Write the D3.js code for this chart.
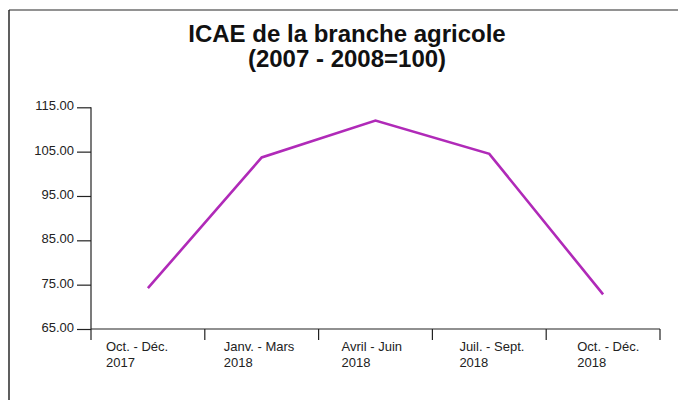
<!DOCTYPE html>
<html>
<head>
<meta charset="utf-8">
<script src="https://cdn.jsdelivr.net/npm/d3@7/dist/d3.min.js"></script>
<style>
  html, body { margin: 0; padding: 0; background: #fff; }
  svg { display: block; font-family: "Liberation Sans", Arial, Helvetica, sans-serif; }
</style>
</head>
<body>
<svg id="chart" width="678" height="400"></svg>
<script>
// Quarterly ICAE index, agricultural branch (base 2007-2008 = 100)
const quarters = [
  ["Oct. - Déc.", "2017"],
  ["Janv. - Mars", "2018"],
  ["Avril - Juin", "2018"],
  ["Juil. - Sept.", "2018"],
  ["Oct. - Déc.", "2018"]
];
const icaeValues = [74.2, 103.7, 112.0, 104.5, 72.8];
const yTicks = [65, 75, 85, 95, 105, 115];
const titleLines = ["ICAE de la branche agricole", "(2007 - 2008=100)"];

const W = 678, H = 400;
const svg = d3.select("#chart");

// outer frame (top and left edges visible)
svg.append("line").attr("x1", 9).attr("x2", W).attr("y1", 10).attr("y2", 10)
  .attr("stroke", "#6e6e6e").attr("stroke-width", 1.6);
svg.append("line").attr("x1", 9).attr("x2", 9).attr("y1", 10).attr("y2", H)
  .attr("stroke", "#1a1a1a").attr("stroke-width", 1.4);

// title
svg.append("g").selectAll("text").data(titleLines).join("text")
  .attr("x", 347).attr("y", (d, i) => 42 + i * 25)
  .attr("text-anchor", "middle")
  .attr("font-size", 24).attr("font-weight", "bold").attr("fill", "#111")
  .text(d => d);

const keys = quarters.map((q, i) => i);
const x = d3.scaleBand().domain(keys).range([91, 660]);
const y = d3.scaleLinear().domain([65, 115]).range([329, 107.3]);

const axisColor = "#222";

// y axis
const yAxis = svg.append("g").attr("transform", "translate(91,0)")
  .call(d3.axisLeft(y).tickValues(yTicks).tickSize(14).tickPadding(3)
    .tickFormat(d3.format(".2f")));
yAxis.select(".domain").remove();
yAxis.selectAll(".tick line").attr("stroke", axisColor).attr("stroke-width", 1.2);
yAxis.selectAll(".tick text").attr("font-size", 13).attr("fill", "#222")
  .attr("font-family", null).attr("dy", "0.2em");
svg.append("line").attr("x1", 91).attr("x2", 91).attr("y1", y(115)).attr("y2", 340)
  .attr("stroke", axisColor).attr("stroke-width", 1.2);

// x axis with boundary ticks between quarters
const xg = svg.append("g");
xg.append("line").attr("x1", 91).attr("x2", 660).attr("y1", y(65)).attr("y2", y(65))
  .attr("stroke", axisColor).attr("stroke-width", 1.2);
const bounds = keys.map(k => x(k)).concat([x(keys[keys.length - 1]) + x.bandwidth()]);
xg.selectAll("line.b").data(bounds.slice(1)).join("line").attr("class", "b")
  .attr("x1", d => d).attr("x2", d => d).attr("y1", y(65)).attr("y2", 340)
  .attr("stroke", axisColor).attr("stroke-width", 1.2);

const labels = xg.selectAll("text.q").data(quarters).join("text").attr("class", "q")
  .attr("x", (d, i) => x(i) + 15 + i * 4)
  .attr("y", 351)
  .attr("font-size", 13).attr("fill", "#222");
labels.selectAll("tspan").data(d => d).join("tspan")
  .attr("x", function () { return d3.select(this.parentNode).attr("x"); })
  .attr("dy", (d, i) => i === 0 ? 0 : 16)
  .text(d => d);

// series line
const line = d3.line().x((d, i) => x(i) + x.bandwidth() / 2).y(d => y(d));
svg.append("path").datum(icaeValues).attr("d", line)
  .attr("fill", "none").attr("stroke", "#b02ab8").attr("stroke-width", 2.6)
  .attr("stroke-linejoin", "miter");
</script>
</body>
</html>
